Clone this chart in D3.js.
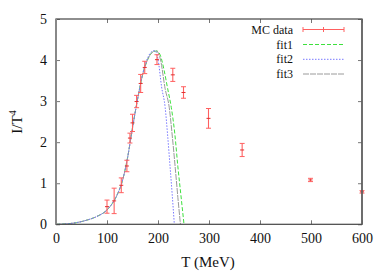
<!DOCTYPE html>
<html><head><meta charset="utf-8">
<script src="https://cdn.jsdelivr.net/npm/d3@7"></script>
<style>
html,body{margin:0;padding:0;background:#fff;}
</style></head>
<body><svg id="c" width="389" height="273"></svg>
<script>
// MC data
const mcT   = [100, 114, 128, 139, 145, 150, 158, 166, 174, 198, 229, 250, 299, 365, 499, 600];
const mcY   = [0.43, 0.57, 0.95, 1.42, 2.10, 2.47, 2.99, 3.43, 3.82, 4.01, 3.64, 3.21, 2.58, 1.81, 1.08, 0.79];
const mcErr = [0.16, 0.31, 0.18, 0.14, 0.12, 0.21, 0.15, 0.22, 0.15, 0.12, 0.16, 0.14, 0.24, 0.16, 0.04, 0.03];

// fits
const fit1T = [0, 20, 40, 60, 80, 100, 110, 120, 130, 140, 150, 160, 170, 180, 188, 198, 205, 212, 219, 226, 233, 239, 245, 251];
const fit1Y = [0, 0.01, 0.04, 0.1, 0.19, 0.35, 0.5, 0.72, 1.05, 1.6, 2.35, 3.05, 3.65, 4.02, 4.18, 4.22, 4.1, 3.75, 3.3, 2.85, 2.2, 1.4, 0.7, 0];
const fit2T = [0, 20, 40, 60, 80, 100, 110, 120, 130, 140, 150, 160, 170, 180, 188, 194, 200, 207, 214, 219, 224, 228, 232];
const fit2Y = [0, 0.01, 0.04, 0.1, 0.19, 0.35, 0.5, 0.72, 1.05, 1.6, 2.35, 3.05, 3.67, 4.06, 4.21, 4.23, 4.02, 3.35, 2.85, 2.15, 1.35, 0.7, 0];
const fit3T = [0, 20, 40, 60, 80, 100, 110, 120, 130, 140, 150, 160, 170, 180, 188, 196, 205, 214, 222, 228, 234, 239, 244];
const fit3Y = [0, 0.01, 0.04, 0.1, 0.19, 0.35, 0.5, 0.72, 1.05, 1.6, 2.35, 3.05, 3.65, 4.02, 4.18, 4.23, 4.0, 3.3, 2.85, 2.15, 1.35, 0.65, 0];

const xTicks = [0, 100, 200, 300, 400, 500, 600];
const yTicks = [0, 1, 2, 3, 4, 5];
const legendLabels = ["MC data", "fit1", "fit2", "fit3"];

const FONT = "'Liberation Serif', 'DejaVu Serif', 'Times New Roman', serif";
const svg = d3.select("#c");
const L = 56, R = 362, T = 19, B = 224.3;
const x = d3.scaleLinear().domain([0, 600]).range([L, R]);
const y = d3.scaleLinear().domain([0, 5]).range([B, T]);

svg.append("defs").append("clipPath").attr("id", "clip")
  .append("rect").attr("x", L).attr("y", T).attr("width", R - L).attr("height", B - T);

// fits
const line = d3.line().x(d => x(d[0])).y(d => y(d[1])).curve(d3.curveMonotoneX);
const plot = svg.append("g").attr("clip-path", "url(#clip)");
const fits = [
  {T: fit1T, Y: fit1Y, color: "#3ee03e", dash: "4,2"},
  {T: fit3T, Y: fit3Y, color: "#9a9a9a", dash: "6,1"},
  {T: fit2T, Y: fit2Y, color: "#7878ff", dash: "1.5,1.5"}
];
fits.forEach(f => {
  plot.append("path").datum(f.T.map((t, i) => [t, f.Y[i]]))
    .attr("d", line).attr("fill", "none").attr("stroke", f.color)
    .attr("stroke-width", 1).attr("stroke-dasharray", f.dash);
});

// MC data error bars
const red = "#ff6060";
const eb = svg.append("g");
mcT.forEach((t, i) => {
  const cx = x(t), y1 = y(mcY[i] + mcErr[i]), y0 = y(mcY[i] - mcErr[i]), cy = y(mcY[i]);
  eb.append("line").attr("x1", cx).attr("x2", cx).attr("y1", y1).attr("y2", y0).attr("stroke", red).attr("stroke-width", 1.1);
  eb.append("line").attr("x1", cx - 2.5).attr("x2", cx + 2.5).attr("y1", y1).attr("y2", y1).attr("stroke", red);
  eb.append("line").attr("x1", cx - 2.5).attr("x2", cx + 2.5).attr("y1", y0).attr("y2", y0).attr("stroke", red);
  eb.append("line").attr("x1", cx - 2).attr("x2", cx + 2).attr("y1", cy).attr("y2", cy).attr("stroke", "#e03030");
});

// axes with inside ticks
const axB = d3.axisBottom(x).tickValues(xTicks).tickSize(-4).tickPadding(9).tickFormat(d3.format("d"));
const axL = d3.axisLeft(y).tickValues(yTicks).tickSize(-4).tickPadding(9).tickFormat(d3.format("d"));
const axT = d3.axisTop(x).tickValues(xTicks).tickSize(-4).tickFormat("");
const axR = d3.axisRight(y).tickValues(yTicks).tickSize(-4).tickFormat("");

function style(g) {
  g.attr("font-family", null).attr("font-size", null);
  g.select(".domain").remove();
  g.selectAll(".tick line").attr("stroke", "#777");
  g.selectAll(".tick text").style("font-family", FONT).style("font-size", "14px").attr("fill", "#111");
}
svg.append("g").attr("transform", `translate(0,${B})`).call(axB).call(style);
svg.append("g").attr("transform", `translate(${L},0)`).call(axL).call(style);
svg.append("g").attr("transform", `translate(0,${T})`).call(axT).call(style);
svg.append("g").attr("transform", `translate(${R},0)`).call(axR).call(style);

// border
svg.append("rect").attr("x", L).attr("y", T).attr("width", R - L).attr("height", B - T)
  .attr("fill", "none").attr("stroke", "#444").attr("stroke-width", 1.2);
svg.append("line").attr("x1", L).attr("x2", L).attr("y1", T).attr("y2", B)
  .attr("stroke", "#888").attr("stroke-width", 2);
svg.append("line").attr("x1", R).attr("x2", R).attr("y1", T).attr("y2", B)
  .attr("stroke", "#666").attr("stroke-width", 1.6);

// axis labels
svg.append("text").attr("x", 208).attr("y", 267).attr("text-anchor", "middle")
  .style("font-family", FONT).style("font-size", "15px").attr("fill", "#111").text("T (MeV)");
const yl = svg.append("text").attr("transform", "translate(22,122) rotate(-90)")
  .attr("text-anchor", "middle").style("font-family", FONT).style("font-size", "15px").attr("fill", "#111");
yl.append("tspan").text("I/T");
yl.append("tspan").attr("dy", -6).style("font-size", "10px").text("4");

// legend
const lg = svg.append("g");
const lx0 = 303, lx1 = 344, ltx = 293;
const ly = [29.5, 44.5, 59.3, 74];
legendLabels.forEach((lab, i) => {
  lg.append("text").attr("x", ltx).attr("y", ly[i] + 4).attr("text-anchor", "end")
    .style("font-family", FONT).style("font-size", "12px").attr("fill", "#111").text(lab);
});
lg.append("line").attr("x1", lx0).attr("x2", lx1).attr("y1", ly[0]).attr("y2", ly[0]).attr("stroke", red);
[lx0, (lx0 + lx1) / 2, lx1].forEach(px => {
  lg.append("line").attr("x1", px).attr("x2", px).attr("y1", ly[0] - 2.5).attr("y2", ly[0] + 2.5).attr("stroke", red);
});
const legFits = [fits[0], fits[2], fits[1]];
legFits.forEach((f, i) => {
  lg.append("line").attr("x1", lx0).attr("x2", lx1).attr("y1", ly[i + 1]).attr("y2", ly[i + 1])
    .attr("stroke", f.color).attr("stroke-dasharray", f.dash);
});
</script></body></html>
